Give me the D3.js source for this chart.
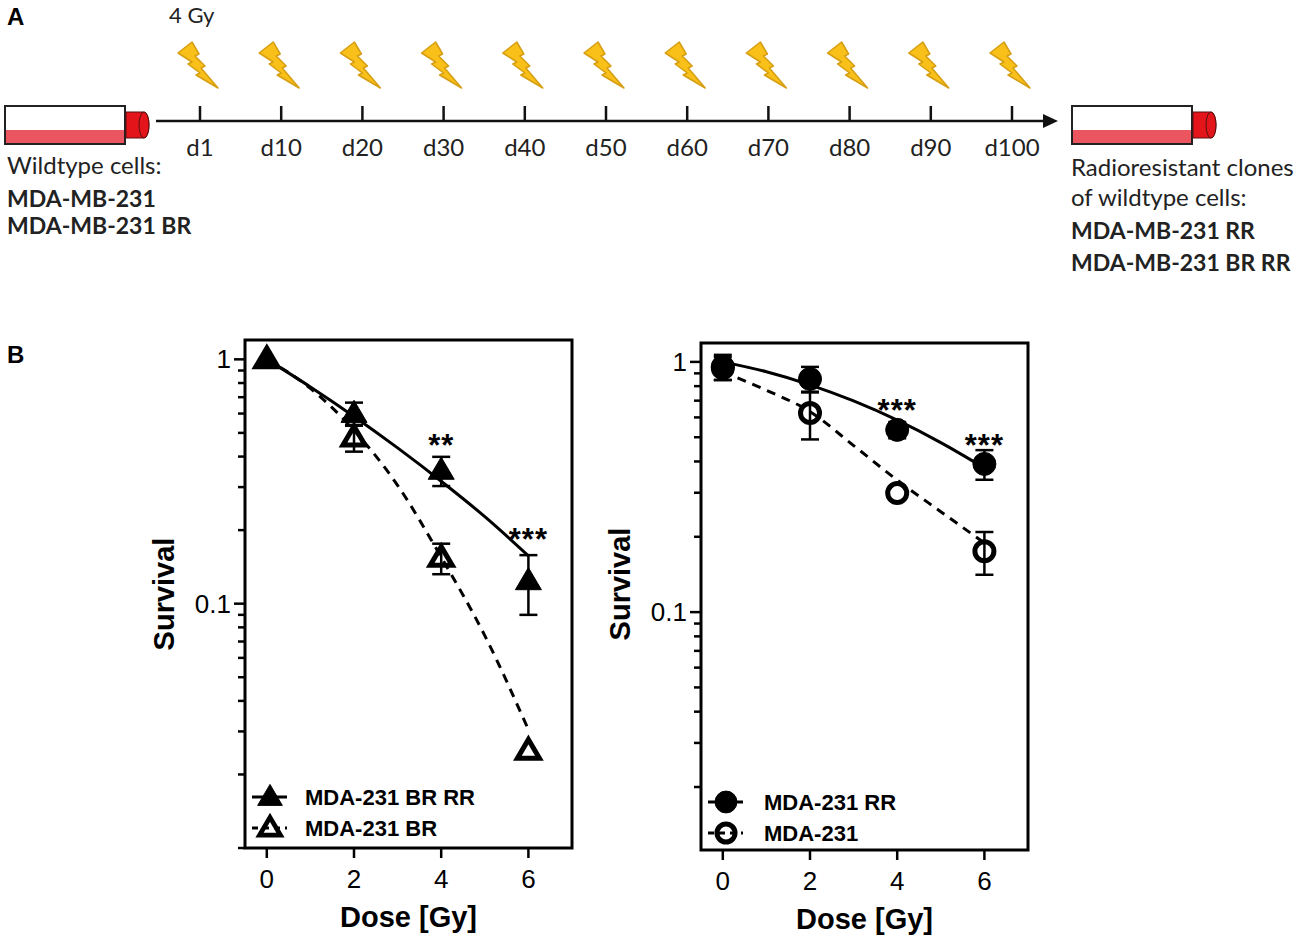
<!DOCTYPE html>
<html><head><meta charset="utf-8">
<script src="https://cdn.jsdelivr.net/npm/d3@7"></script>
<style>body{margin:0;background:#fff}</style>
</head><body>
<svg id="c" width="1299" height="948"></svg>
<script>
// ---------- Panel A data ----------
const days = ["d1","d10","d20","d30","d40","d50","d60","d70","d80","d90","d100"];
const doseLabel = "4 Gy";
const leftLines = [["Wildtype cells:", false], ["MDA-MB-231", true], ["MDA-MB-231 BR", true]];
const rightLines = [["Radioresistant clones", false], ["of wildtype cells:", false], ["MDA-MB-231 RR", true], ["MDA-MB-231 BR RR", true]];

// ---------- Panel B data ----------
const doses = [0, 2, 4, 6];
const xTicks = [0, 2, 4, 6];
const yTickLabels = [1, 0.1];
const brrrMean = [1.0, 0.60, 0.351, 0.124];
const brrrSD   = [0, 0.065, 0.048, 0.034];
const brMean   = [1.0, 0.479, 0.154, 0.025];
const brSD     = [0, 0.06, 0.022, 0];
const rrMean   = [0.957, 0.855, 0.535, 0.391];
const rrSD     = [0.11, 0.10, 0.04, 0.053];
const wtMean   = [0.946, 0.625, 0.299, 0.175];
const wtSD     = [0.10, 0.135, 0, 0.034];
const fitDoses = [0, 1, 2, 3, 4, 5, 6];
const brrrFit  = [1.0, 0.771, 0.584, 0.434, 0.317, 0.227, 0.157];
const brFit    = [1.0, 0.761, 0.512, 0.305, 0.155, 0.074, 0.0305];
const rrFit    = [1.0, 0.913, 0.81, 0.698, 0.585, 0.476, 0.377];
const wtFit    = [0.912, 0.77, 0.633, 0.463, 0.337, 0.252, 0.189];
const leftStars  = [[4, 0.470, "**"], [6, 0.195, "***"]];
const rightStars = [[4, 0.680, "***"], [6, 0.492, "***"]];
const leftLegend  = ["MDA-231 BR RR", "MDA-231 BR"];
const rightLegend = ["MDA-231 RR", "MDA-231"];

const svg = d3.select("#c");
const ARIAL = "'Liberation Sans', Arial, sans-serif";
const CAL = "Lato, 'Open Sans', sans-serif";

// ================= PANEL A =================
svg.append("text").attr("x", 7).attr("y", 25).attr("font-family", ARIAL)
  .attr("font-weight", "bold").attr("font-size", 24).text("A");

function tube(g, x0, y0) {
  g.append("rect").attr("x", x0).attr("y", y0).attr("width", 120).attr("height", 38)
    .attr("fill", "#fff").attr("stroke", "#222").attr("stroke-width", 2);
  g.append("rect").attr("x", x0 + 1).attr("y", y0 + 24).attr("width", 118).attr("height", 13)
    .attr("fill", "#ea5560");
  g.append("path")
    .attr("d", `M${x0+121},${y0+6} L${x0+139},${y0+6} A5,13 0 0 1 ${x0+139},${y0+32} L${x0+121},${y0+32} Z`)
    .attr("fill", "#e3151b").attr("stroke", "#5a1010").attr("stroke-width", 1);
  g.append("ellipse").attr("cx", x0 + 139).attr("cy", y0 + 19).attr("rx", 5).attr("ry", 13)
    .attr("fill", "#e3151b").attr("stroke", "#5a1010").attr("stroke-width", 1);
}
tube(svg.append("g"), 5, 106);
tube(svg.append("g"), 1072, 106);

const xs = d3.scalePoint().domain(days).range([200, 1012]);
svg.append("line").attr("x1", 156).attr("x2", 1046).attr("y1", 121).attr("y2", 121)
  .attr("stroke", "#111").attr("stroke-width", 2.5);
svg.append("path").attr("d", "M1058,121 L1043,114 L1043,128 Z").attr("fill", "#111");

const tl = svg.append("g");
days.forEach(d => {
  const x = xs(d);
  tl.append("line").attr("x1", x).attr("x2", x).attr("y1", 106).attr("y2", 121)
    .attr("stroke", "#111").attr("stroke-width", 2.5);
  tl.append("text").attr("x", x).attr("y", 156).attr("text-anchor", "middle")
    .attr("font-family", CAL).attr("font-size", 24).attr("fill", "#222").text(d);
  tl.append("path")
    .attr("transform", `translate(${x - 22},42)`)
    .attr("d", "M0,11 L14,0 L21,12 L17,14 L27,24 L23,26 L40,46 L18,33 L22,31 L10,22 L14,20 Z")
    .attr("fill", "#f8c019").attr("stroke", "#d69e12").attr("stroke-width", 1.5)
    .attr("stroke-linejoin", "round");
});
svg.append("text").attr("x", 169).attr("y", 23).attr("font-family", CAL).attr("font-size", 22)
  .attr("fill", "#222").text(doseLabel);

const leftY = [174, 207, 234];
leftLines.forEach((l, i) => svg.append("text").attr("x", 7).attr("y", leftY[i])
  .attr("font-family", CAL).attr("font-size", l[1] ? 23 : 24).attr("fill", "#222")
  .attr("font-weight", l[1] ? "bold" : "normal").text(l[0]));
const rightY = [176, 206, 239, 271];
rightLines.forEach((l, i) => svg.append("text").attr("x", 1071).attr("y", rightY[i])
  .attr("font-family", CAL).attr("font-size", l[1] ? 23 : 24).attr("fill", "#222")
  .attr("font-weight", l[1] ? "bold" : "normal").text(l[0]));

// ================= PANEL B =================
svg.append("text").attr("x", 7).attr("y", 363).attr("font-family", ARIAL)
  .attr("font-weight", "bold").attr("font-size", 24).text("B");

function triPath(r) {
  const h = r * 1.7;
  return `M0,${-h*0.6} L${r},${h*0.4} L${-r},${h*0.4} Z`;
}

function plot(cfg) {
  const g = svg.append("g");
  const x = d3.scaleLinear().domain([-0.5, 7]).range([cfg.x0, cfg.x1]);
  const y = d3.scaleLog().domain(cfg.yDomain).range([cfg.y1, cfg.y0]);

  // minor/major y ticks
  const tv = [];
  [0.01, 0.1].forEach(b => { for (let k = 1; k <= 9; k++) tv.push(+(b * k).toFixed(4)); });
  tv.push(1);
  tv.filter(v => v >= cfg.yDomain[0] && v <= cfg.yDomain[1]).forEach(v => {
    const major = yTickLabels.includes(v);
    g.append("line").attr("x1", cfg.x0 - (major ? 11 : 7)).attr("x2", cfg.x0)
      .attr("y1", y(v)).attr("y2", y(v)).attr("stroke", "#000").attr("stroke-width", 2.5);
  });
  yTickLabels.forEach(v => g.append("text").attr("x", cfg.x0 - 14).attr("y", y(v) + 9)
    .attr("text-anchor", "end").attr("font-family", ARIAL).attr("font-size", 26).text(String(v)));

  xTicks.forEach(v => {
    g.append("line").attr("x1", x(v)).attr("x2", x(v)).attr("y1", cfg.y1).attr("y2", cfg.y1 + 10)
      .attr("stroke", "#000").attr("stroke-width", 2.5);
    g.append("text").attr("x", x(v)).attr("y", cfg.y1 + 40).attr("text-anchor", "middle")
      .attr("font-family", ARIAL).attr("font-size", 26).text(v);
  });

  g.append("rect").attr("x", cfg.x0).attr("y", cfg.y0).attr("width", cfg.x1 - cfg.x0)
    .attr("height", cfg.y1 - cfg.y0).attr("fill", "none").attr("stroke", "#000").attr("stroke-width", 3);

  g.append("text").attr("x", (cfg.x0 + cfg.x1) / 2).attr("y", cfg.y1 + 79).attr("text-anchor", "middle")
    .attr("font-family", ARIAL).attr("font-weight", "bold").attr("font-size", 29).text("Dose [Gy]");
  g.append("text").attr("transform", `translate(${cfg.x0 - 71},${cfg.ymid}) rotate(-90)`)
    .attr("text-anchor", "middle").attr("font-family", ARIAL).attr("font-weight", "bold")
    .attr("font-size", 29).text("Survival");

  // error bars
  cfg.series.forEach(s => {
    doses.forEach((d, i) => {
      if (!s.sd[i]) return;
      const hi = y(s.mean[i] + s.sd[i]), lo = y(s.mean[i] - s.sd[i]), cx = x(d);
      g.append("line").attr("x1", cx).attr("x2", cx).attr("y1", hi).attr("y2", lo)
        .attr("stroke", "#000").attr("stroke-width", 2.5);
      [hi, lo].forEach(yy => g.append("line").attr("x1", cx - 9).attr("x2", cx + 9)
        .attr("y1", yy).attr("y2", yy).attr("stroke", "#000").attr("stroke-width", 2.5));
    });
  });
  // fit curves
  const line = d3.line().x(d => x(d[0])).y(d => y(d[1])).curve(d3.curveMonotoneX);
  cfg.series.forEach(s => {
    g.append("path").attr("d", line(fitDoses.map((d, i) => [d, s.fit[i]])))
      .attr("fill", "none").attr("stroke", "#000").attr("stroke-width", 3)
      .attr("stroke-dasharray", s.dashed ? "9,7" : null);
  });
  // markers
  function marker(sel, s, cx, cy, scale) {
    if (s.shape === "tri") {
      sel.append("path").attr("transform", `translate(${cx},${cy}) scale(${scale})`)
        .attr("d", triPath(s.filled ? 13 : 11))
        .attr("fill", s.filled ? "#000" : "none").attr("stroke", "#000")
        .attr("stroke-width", s.filled ? 1 : 5).attr("stroke-linejoin", "miter");
    } else {
      sel.append("circle").attr("cx", cx).attr("cy", cy).attr("r", (s.filled ? 11.5 : 9.5) * scale)
        .attr("fill", s.filled ? "#000" : "none").attr("stroke", "#000")
        .attr("stroke-width", s.filled ? 1 : 5);
    }
  }
  cfg.series.slice().reverse().forEach(s => {
    doses.forEach((d, i) => marker(g, s, x(d), y(s.mean[i]), 1));
  });
  // stars
  cfg.stars.forEach(st => g.append("text").attr("x", x(st[0])).attr("y", y(st[1]) + 17)
    .attr("text-anchor", "middle").attr("font-family", ARIAL).attr("font-weight", "bold")
    .attr("font-size", 31).attr("letter-spacing", 1).text(st[2]));
  // legend
  cfg.series.forEach((s, i) => {
    const ly = cfg.legY[i];
    g.append("line").attr("x1", cfg.x0 + 7).attr("x2", cfg.x0 + 42).attr("y1", ly).attr("y2", ly)
      .attr("stroke", "#000").attr("stroke-width", 3)
      .attr("stroke-dasharray", s.dashed ? "6,5" : null);
    marker(g, s, cfg.x0 + 25, ly, 0.95);
    g.append("text").attr("x", cfg.x0 + cfg.legDx).attr("y", ly + 8)
      .attr("font-family", ARIAL).attr("font-weight", "bold").attr("font-size", 22)
      .text(cfg.legend[i]);
  });
}

plot({
  x0: 245, x1: 572, y0: 340, y1: 848, ymid: 594, yDomain: [0.01, 1.2],
  series: [
    { mean: brrrMean, sd: brrrSD, fit: brrrFit, shape: "tri", filled: true, dashed: false },
    { mean: brMean, sd: brSD, fit: brFit, shape: "tri", filled: false, dashed: true }
  ],
  stars: leftStars, legend: leftLegend, legY: [797, 828], legDx: 60
});
plot({
  x0: 701, x1: 1028, y0: 343, y1: 850, ymid: 584, yDomain: [0.0112, 1.19],
  series: [
    { mean: rrMean, sd: rrSD, fit: rrFit, shape: "circ", filled: true, dashed: false },
    { mean: wtMean, sd: wtSD, fit: wtFit, shape: "circ", filled: false, dashed: true }
  ],
  stars: rightStars, legend: rightLegend, legY: [802, 833], legDx: 63
});
</script></body></html>
